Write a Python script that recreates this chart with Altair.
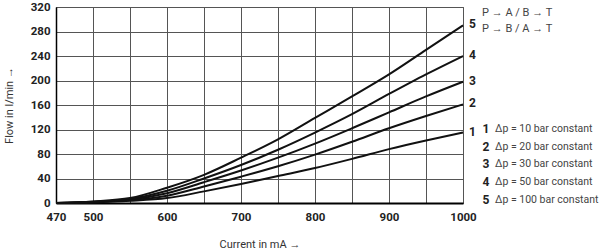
import altair as alt
import pandas as pd

# ---- data ----
current_mA = [450, 500, 550, 600, 650, 700, 750, 800, 850, 900, 950, 1000]
flow_1 = [0, 1.0, 3.5, 8, 19, 31, 44, 57, 72, 88, 102, 115]
flow_2 = [0, 1.5, 4.5, 12, 27, 43, 60, 79, 100, 122, 142, 161]
flow_3 = [0, 1.8, 5.5, 16, 34, 53, 74, 97, 122, 148, 174, 198]
flow_4 = [0, 2.0, 6.5, 20, 40, 62, 87, 115, 145, 178, 210, 240]
flow_5 = [0, 2.5, 8.0, 25, 46, 74, 104, 139, 174, 210, 250, 290]
curve_ids = ["1", "2", "3", "4", "5"]
legend_texts = [
    "Δp = 10 bar constant",
    "Δp = 20 bar constant",
    "Δp = 30 bar constant",
    "Δp = 50 bar constant",
    "Δp = 100 bar constant",
]
header_lines = ["P → A / B → T", "P → B / A → T"]
x_grid = [450, 500, 550, 600, 650, 700, 750, 800, 850, 900, 950, 1000]
y_ticks = [0, 40, 80, 120, 160, 200, 240, 280, 320]

flows = [flow_1, flow_2, flow_3, flow_4, flow_5]
rows = []
for cid, fl in zip(curve_ids, flows):
    for c, f in zip(current_mA, fl):
        rows.append({"curve": cid, "current": c, "flow": f})
df = pd.DataFrame(rows)
df_end = df[df["current"] == current_mA[-1]]
df_leg = pd.DataFrame({"idx": list(range(5)), "num": curve_ids, "txt": legend_texts})
df_head = pd.DataFrame({"idx": [0, 1], "txt": header_lines})

W, H = 407, 196
FONT = "Roboto"

x_enc = alt.X(
    "current:Q",
    scale=alt.Scale(domain=[450, 1000], nice=False, zero=False),
    axis=alt.Axis(
        values=x_grid, tickCount=100,
        labelExpr="datum.value == 450 ? '470' : (datum.value % 100 == 0 ? format(datum.value, 'd') : '')",
        title="Current in mA →",
        titleX=W / 2, titleY=41, titleBaseline="middle", titleAlign="center",
        titleFont=FONT, titleFontSize=11, titleFontWeight="normal", titleColor="#333",
        labelFont=FONT, labelFontSize=11.5, labelFontWeight="bold", labelColor="#222",
        labelPadding=8, ticks=False, grid=True, gridColor="#555", gridWidth=1,
        domainColor="#000", domainWidth=2, labelFlush=False, labelOverlap=False,
    ),
)
y_enc = alt.Y(
    "flow:Q",
    scale=alt.Scale(domain=[0, 320], nice=False),
    axis=alt.Axis(
        values=y_ticks, tickCount=100, format="d",
        title="Flow in l/min →",
        titleX=-47, titleY=H / 2, titleAngle=-90, titleBaseline="middle", titleAlign="center",
        titleFont=FONT, titleFontSize=11, titleFontWeight="normal", titleColor="#333",
        labelFont=FONT, labelFontSize=11.5, labelFontWeight="bold", labelColor="#222",
        labelPadding=6, ticks=False, grid=True, gridColor="#555", gridWidth=1,
        domainColor="#000", domainWidth=1.5, labelFlush=False, labelOverlap=False,
    ),
)

lines = alt.Chart(df).mark_line(
    color="#111", strokeWidth=2, interpolate="monotone"
).encode(x=x_enc, y=y_enc, detail="curve:N")

end_labels = alt.Chart(df_end).mark_text(
    align="left", baseline="middle", dx=6, dy=-1,
    font=FONT, fontSize=12, fontWeight="bold", color="#222"
).encode(x="current:Q", y="flow:Q", text="curve:N")

leg_nums = alt.Chart(df_leg).transform_calculate(
    ypos="122 + 17.7 * datum.idx"
).mark_text(
    align="center", baseline="middle", font=FONT, fontSize=12,
    fontWeight="bold", color="#222"
).encode(x=alt.value(430), y=alt.Y("ypos:Q", scale=None), text="num:N")

leg_txt = alt.Chart(df_leg).transform_calculate(
    ypos="122 + 17.7 * datum.idx"
).mark_text(
    align="left", baseline="middle", font=FONT, fontSize=10.5,
    fontWeight="normal", color="#444"
).encode(x=alt.value(439), y=alt.Y("ypos:Q", scale=None), text="txt:N")

head_txt = alt.Chart(df_head).transform_calculate(
    ypos="5.5 + 16.7 * datum.idx"
).mark_text(
    align="left", baseline="middle", font=FONT, fontSize=11,
    fontWeight="normal", color="#444"
).encode(x=alt.value(426), y=alt.Y("ypos:Q", scale=None), text="txt:N")

chart = alt.layer(lines, end_labels, leg_nums, leg_txt, head_txt).properties(
    width=W, height=H,
    autosize=alt.AutoSizeParams(type="none"),
    padding={"left": 56, "top": 7, "right": 601 - 56 - W, "bottom": 251 - 7 - H},
    background="white",
).configure_view(stroke="#555", strokeWidth=1)

chart.save("out.html", embed_options={"renderer": "svg", "actions": False})
